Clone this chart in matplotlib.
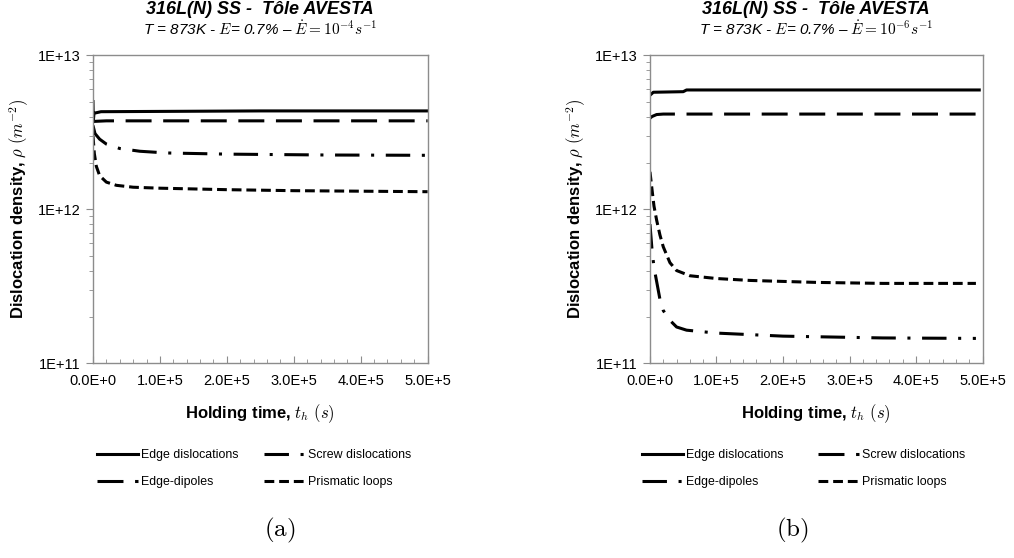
import matplotlib
matplotlib.use("Agg")
import matplotlib.pyplot as plt
from matplotlib.ticker import FixedLocator, LogLocator, NullFormatter

plt.rcParams['font.family'] = ['Liberation Sans', 'DejaVu Sans']
plt.rcParams['mathtext.fontset'] = 'cm'

# ---- data (time in s, density in m^-2) ----
# (a) strain rate 1e-4 s^-1
t_edge_a = [0, 500, 1.5e3, 1.2e4, 2.5e5, 5e5]
edge_a = [5.0e12, 3.75e12, 4.2e12, 4.3e12, 4.35e12, 4.35e12]

t_screw_a = [0, 3e3, 1e4, 2e4, 4e4, 7e4, 1.1e5, 2e5, 3.5e5, 5e5]
screw_a = [3.5e12, 3.1e12, 2.85e12, 2.65e12, 2.48e12, 2.38e12, 2.32e12, 2.28e12, 2.25e12, 2.24e12]

t_dip_a = [0, 500, 2e3, 2e4, 2e5, 5e5]
dip_a = [4.0e12, 3.7e12, 3.72e12, 3.75e12, 3.75e12, 3.75e12]

t_loop_a = [0, 2e3, 5e3, 1e4, 2e4, 3.5e4, 6e4, 1e5, 2e5, 3e5, 5e5]
loop_a = [3.0e12, 2.3e12, 1.9e12, 1.65e12, 1.5e12, 1.43e12, 1.39e12, 1.37e12, 1.34e12, 1.32e12, 1.3e12]

# (b) strain rate 1e-6 s^-1
t_edge_b = [0, 5e3, 5e4, 5.5e4, 2e5, 4.95e5]
edge_b = [5.5e12, 5.75e12, 5.8e12, 5.95e12, 5.95e12, 5.95e12]

t_screw_b = [0, 3e3, 1e4, 2e4, 1e5, 4.9e5]
screw_b = [3.9e12, 4.0e12, 4.12e12, 4.15e12, 4.15e12, 4.15e12]

t_dip_b = [0, 3e3, 6e3, 1e4, 1.5e4, 2e4, 3e4, 4e4, 5.5e4, 1e5, 2e5, 3.5e5, 4.9e5]
dip_b = [8.0e11, 5.5e11, 4.2e11, 3.4e11, 2.6e11, 2.2e11, 1.9e11, 1.72e11, 1.64e11, 1.57e11, 1.5e11, 1.46e11, 1.45e11]

t_loop_b = [0, 3e3, 6e3, 1e4, 1.5e4, 2e4, 3e4, 4e4, 6e4, 1e5, 1.5e5, 2.5e5, 3.5e5, 4.9e5]
loop_b = [1.75e12, 1.35e12, 1.05e12, 8.5e11, 6.8e11, 5.7e11, 4.5e11, 4.0e11, 3.7e11, 3.55e11, 3.45e11, 3.35e11, 3.3e11, 3.3e11]

x_ticks = [0, 1e5, 2e5, 3e5, 4e5, 5e5]
x_labels = ["0.0E+0", "1.0E+5", "2.0E+5", "3.0E+5", "4.0E+5", "5.0E+5"]
y_ticks = [1e11, 1e12, 1e13]
y_labels = ["1E+11", "1E+12", "1E+13"]

LW = 2.2
GRAY = '#8c8c8c'
solid = dict(color='black', lw=LW, ls='-')
longdash = dict(color='black', lw=LW, dashes=(8.5, 3.8))
dashdot = dict(color='black', lw=LW, dashes=(8.0, 3.8, 1.0, 3.8))
shortdash = dict(color='black', lw=LW, dashes=(3.2, 1.6))


def style_axes(ax):
    ax.set_yscale('log')
    ax.set_xlim(0, 5e5)
    ax.set_ylim(1e11, 1e13)
    ax.xaxis.set_major_locator(FixedLocator(x_ticks))
    ax.set_xticklabels(x_labels)
    ax.xaxis.set_minor_locator(FixedLocator([i * 2e4 for i in range(26)]))
    ax.yaxis.set_major_locator(FixedLocator(y_ticks))
    ax.set_yticklabels(y_labels)
    ax.yaxis.set_minor_locator(LogLocator(base=10, subs=range(2, 10)))
    ax.yaxis.set_minor_formatter(NullFormatter())
    for s in ax.spines.values():
        s.set_color(GRAY)
        s.set_linewidth(1.0)
    ax.tick_params(axis='x', which='major', direction='in', length=5, color=GRAY, labelsize=10.5, pad=8)
    ax.tick_params(axis='x', which='minor', direction='in', length=3, color=GRAY)
    ax.tick_params(axis='y', which='major', direction='out', length=5, color=GRAY, labelsize=10.5, pad=4)
    ax.tick_params(axis='y', which='minor', direction='out', length=3, color=GRAY)
    ax.set_ylabel(r"Dislocation density, $\rho\ (m^{-2})$", fontsize=12, fontweight='bold', labelpad=5)
    ax.set_xlabel(r"Holding time, $t_h\ (s)$", fontsize=12, fontweight='bold', labelpad=10)


fig = plt.figure(figsize=(10.14, 5.58), dpi=100)
ax_a = fig.add_axes([0.0917, 0.349, 0.330, 0.552])
ax_b = fig.add_axes([0.641, 0.349, 0.328, 0.552])

# panel (a)
l1, = ax_a.plot(t_edge_a, edge_a, label="Edge dislocations", **solid)
l2, = ax_a.plot(t_screw_a, screw_a, label="Screw dislocations", **dashdot)
l3, = ax_a.plot(t_dip_a, dip_a, label="Edge-dipoles", **longdash)
l4, = ax_a.plot(t_loop_a, loop_a, label="Prismatic loops", **shortdash)
style_axes(ax_a)

# panel (b)
m1, = ax_b.plot(t_edge_b, edge_b, label="Edge dislocations", **solid)
m2, = ax_b.plot(t_screw_b, screw_b, label="Screw dislocations", **longdash)
m3, = ax_b.plot(t_dip_b, dip_b, label="Edge-dipoles", **dashdot)
m4, = ax_b.plot(t_loop_b, loop_b, label="Prismatic loops", **shortdash)
style_axes(ax_b)

subtitles = [r"T = 873K - $E$= 0.7% – $\dot{E} = 10^{-4}s^{-1}$",
             r"T = 873K - $E$= 0.7% – $\dot{E} = 10^{-6}s^{-1}$"]
panels = [(ax_a, subtitles[0], [l1, l3, l2, l4], "(a)", 97, 280, 2.05),
          (ax_b, subtitles[1], [m1, m3, m2, m4], "(b)", 642, 792, 2.8)]
for ax, sub, handles, tag, leg_x, tag_x, colsp in panels:
    pos = ax.get_position()
    cx = (pos.x0 + pos.x1) / 2
    fig.text(cx, 1 - 10 / 558, "316L(N) SS -  Tôle AVESTA", ha='center', va='center',
             fontsize=13, fontweight='bold', style='italic')
    fig.text(cx, 1 - 29 / 558, sub, ha='center', va='center', fontsize=11, style='italic')
    # legend rows are filled row by row in the original, so handles are re-ordered
    fig.legend(handles=handles, ncol=2, loc='upper left',
               bbox_to_anchor=(leg_x / 1014, 1 - 449 / 558),
               frameon=False, fontsize=8.9, handlelength=3.3, handletextpad=0.25,
               columnspacing=colsp, labelspacing=1.25, borderpad=0, borderaxespad=0)
    fig.text(tag_x / 1014, 1 - 530 / 558, r"$\mathrm{" + tag + "}$", ha='center', va='center', fontsize=18)

fig.savefig("out.png", dpi=100)
